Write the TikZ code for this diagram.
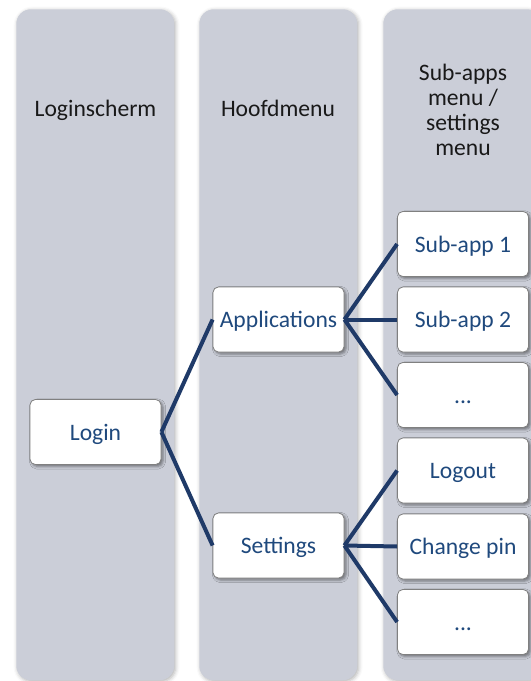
\documentclass[tikz,border=0pt]{standalone}
\usepackage{fontspec}
\setmainfont{Carlito}
\usetikzlibrary{shadows,shadows.blur}
\definecolor{colfill}{RGB}{203,206,216}
\definecolor{linec}{RGB}{31,58,104}
\definecolor{txtc}{RGB}{31,73,125}
\definecolor{boxborder}{RGB}{128,128,128}
\begin{document}
\begin{tikzpicture}[x=0.75pt,y=-0.75pt,
  column/.style={fill=colfill, rounded corners=11pt, minimum width=118.5pt, minimum height=503.25pt, anchor=north west, inner sep=0pt,
    blur shadow={shadow xshift=1pt, shadow yshift=-1pt, shadow blur radius=3pt, shadow opacity=30}},
  header/.style={font=\fontsize{17.7}{18.9}\selectfont, text=black!90, align=center},
  fixbase/.style={text height=13.5pt, text depth=1.5pt},
  item/.style={fixbase, draw=boxborder, line width=0.6pt, fill=white, rounded corners=4pt, minimum width=98.25pt, minimum height=48.75pt, inner sep=0pt,
    font=\fontsize{17.7}{20}\selectfont, text=txtc,
    blur shadow={shadow xshift=1.5pt, shadow yshift=-1.5pt, shadow blur radius=2pt, shadow opacity=45}},
  link/.style={draw=linec, line width=3pt}
]
\useasboundingbox (0,0) rectangle (531,681);
\clip (0,0) rectangle (531,681);
\node[column] (c1) at (16,9) {};
\node[column] (c2) at (199,9) {};
\node[column] (c3) at (383,9) {};
\node[header,fixbase] (h1) at (95.5,109) {Loginscherm};
\node[header,fixbase] (h2) at (278,109) {Hoofdmenu};
\node[header] (h3) at (463,110) {Sub-apps\\menu /\\settings\\menu};
\node[item] (login) at (95.5,432) {Login};
\node[item] (apps) at (278.5,319.5) {Applications};
\node[item] (sett) at (278.5,545.5) {Settings};
\node[item] (s1) at (463,244) {Sub-app 1};
\node[item] (s2) at (463,319.5) {Sub-app 2};
\node[item] (s3) at (463,395) {...};
\node[item] (t1) at (463,470.5) {Logout};
\node[item] (t2) at (463,546.5) {Change pin};
\node[item] (t3) at (463,622) {...};
\draw[link] (login.east) -- (apps.west);
\draw[link] (login.east) -- (sett.west);
\draw[link] (apps.east) -- (s1.west);
\draw[link] (apps.east) -- (s2.west);
\draw[link] (apps.east) -- (s3.west);
\draw[link] (sett.east) -- (t1.west);
\draw[link] (sett.east) -- (t2.west);
\draw[link] (sett.east) -- (t3.west);
\end{tikzpicture}
\end{document}
